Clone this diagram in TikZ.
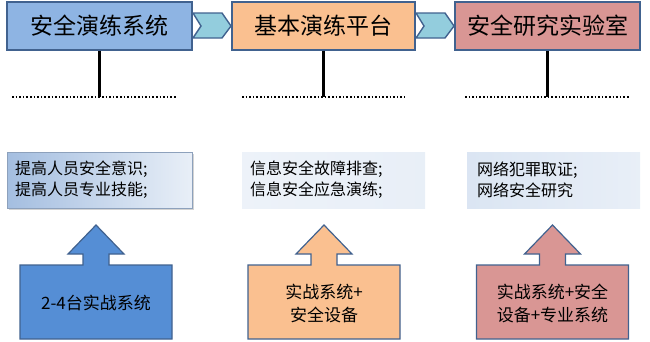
\documentclass[tikz,border=0pt]{standalone}
\usepackage{fontspec}
\newfontfamily\cjk{Noto Sans CJK SC}
\usetikzlibrary{shadows}
\definecolor{edgeblue}{HTML}{41628F}
\definecolor{sysblue}{HTML}{8EB4E3}
\definecolor{baseorange}{HTML}{FAC090}
\definecolor{labrose}{HTML}{D99694}
\definecolor{chevteal}{HTML}{93CDDD}
\definecolor{arrblue}{HTML}{558ED5}
\definecolor{goaltint}{HTML}{A4BEE0}
\tikzset{
  titlebox/.style={draw=edgeblue, line width=1.4pt, minimum width=185pt, minimum height=48pt,
    inner sep=0pt, font=\cjk\fontsize{23}{27}\selectfont},
  chevron/.style={draw=edgeblue, line width=1.4pt, fill=chevteal, line join=miter},
  stem/.style={line width=2.4pt},
  dots/.style={line width=1.6pt, dotted},
  goalbox/.style={inner xsep=8pt, inner ysep=0pt, minimum height=56pt, align=left,
    font=\cjk\fontsize{16}{21}\selectfont},
  upbox/.style={draw=edgeblue, line width=1.2pt, line join=miter},
  uptext/.style={align=center, font=\cjk\fontsize{17}{23}\selectfont}
}
\begin{document}
\begin{tikzpicture}[x=1pt, y=-1pt]
    \useasboundingbox (0,0) rectangle (650,341);
    % top row
    \node[titlebox, fill=sysblue] (sys) at (99.5,26) {安全演练系统};
    \node[titlebox, fill=baseorange, minimum width=183pt] (base) at (323.5,26) {基本演练平台};
    \node[titlebox, fill=labrose] (lab) at (547.5,26) {安全研究实验室};
    \draw[chevron] (193,13) -- (222,13) -- (231,26) -- (222,38) -- (193,38) -- (201,26) -- cycle;
    \draw[chevron] (416,13) -- (445,13) -- (454,26) -- (445,38) -- (416,38) -- (424,26) -- cycle;
    % stems and dotted rules
    \coordinate (sysdot) at (99.5,97);
    \coordinate (basedot) at (323.5,97);
    \coordinate (labdot) at (547.5,97);
    \draw[stem] (sys.south) -- (sysdot);
    \draw[stem] (base.south) -- (basedot);
    \draw[stem] (lab.south) -- (labdot);
    \draw[dots] (12,97) -- (177,97);
    \draw[dots] (242,97) -- (405,97);
    \draw[dots] (465,97) -- (630,97);
    % goals
    \node[goalbox, text width=169pt, draw=edgeblue!60, left color=goaltint, right color=goaltint!25,
      drop shadow={shadow xshift=1.5pt, shadow yshift=-1.5pt, opacity=0.35}] (sysgoal) at (99.5,180)
      {提高人员安全意识;\\提高人员专业技能;};
    \node[goalbox, text width=167pt, left color=goaltint!20, middle color=goaltint, right color=goaltint!25]
      (basegoal) at (333.5,180) {信息安全故障排查;\\信息安全应急演练;};
    \node[goalbox, text width=153pt, inner xsep=10pt, left color=goaltint!40, middle color=goaltint, right color=goaltint!25]
      (labgoal) at (553.5,180) {网络犯罪取证;\\网络安全研究};
    % bottom arrows
    \foreach \cx/\col in {96/arrblue, 324/baseorange, 552.5/labrose}
      \draw[upbox, fill=\col] (\cx-76,339) -- (\cx-76,265) -- (\cx-13,265) -- (\cx-13,254) -- (\cx-28,254)
        -- (\cx,225) -- (\cx+28,254) -- (\cx+13,254) -- (\cx+13,265) -- (\cx+76,265) -- (\cx+76,339) -- cycle;
    \node[uptext] (sysgear) at (96,303) {2-4台实战系统};
    \node[uptext] (basegear) at (324,303) {实战系统+\\安全设备};
    \node[uptext] (labgear) at (552.5,303) {实战系统+安全\\设备+专业系统};
\end{tikzpicture}
\end{document}
